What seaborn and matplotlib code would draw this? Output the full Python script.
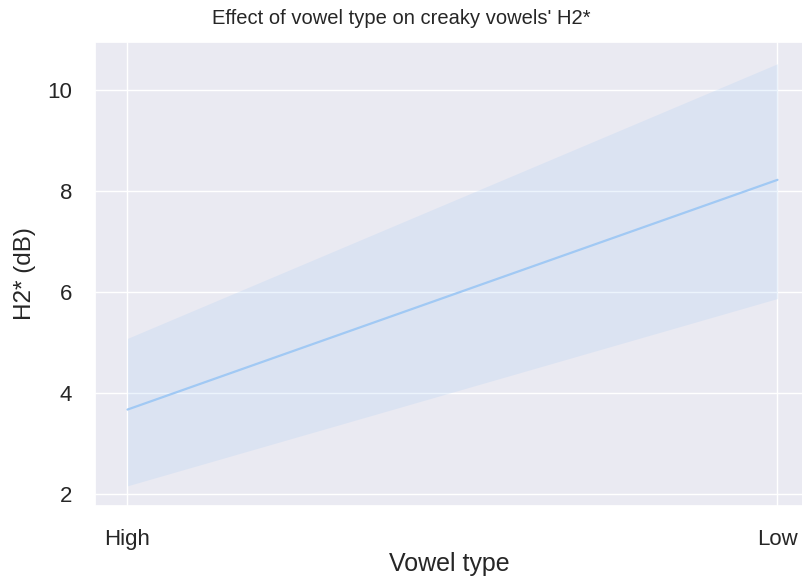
import numpy as np
import pandas as pd
import matplotlib
matplotlib.use("Agg")
import matplotlib.pyplot as plt
import seaborn as sns

# values
vowel_types = ["High", "Low"]
h2_mean = [3.67, 8.22]
h2_lower = [2.16, 5.87]
h2_upper = [5.08, 10.52]

sns.set_theme(style="darkgrid", palette="pastel")
plt.rcParams["font.family"] = ["Liberation Sans", "DejaVu Sans"]

df = pd.DataFrame({"Vowel type": vowel_types, "H2* (dB)": h2_mean})

fig = plt.figure(figsize=(8.03, 5.81), dpi=100)
ax = fig.add_axes([95 / 803, 75 / 581, 715 / 803, 464 / 581])

color = sns.color_palette("pastel")[0]
sns.lineplot(data=df, x="Vowel type", y="H2* (dB)", color=color, linewidth=1.6, ax=ax)
ax.fill_between(vowel_types, h2_lower, h2_upper, color=color, alpha=0.2, linewidth=0)

ax.set_xlim(-0.05, 1.05)
ax.set_ylim(1.76, 10.95)
ax.set_yticks([2, 4, 6, 8, 10])

ax.set_title("Effect of vowel type on creaky vowels' H2*", fontsize=14.5,
             color="#262626", x=0.428, pad=13)
ax.set_xlabel("Vowel type", fontsize=18, color="#262626", labelpad=5)
ax.set_ylabel("H2* (dB)", fontsize=17.5, color="#262626", labelpad=8)
ax.xaxis.set_label_coords(0.495, -0.10)
ax.tick_params(labelsize=16, colors="#262626", pad=10.5)

fig.savefig("out.png", dpi=100)
